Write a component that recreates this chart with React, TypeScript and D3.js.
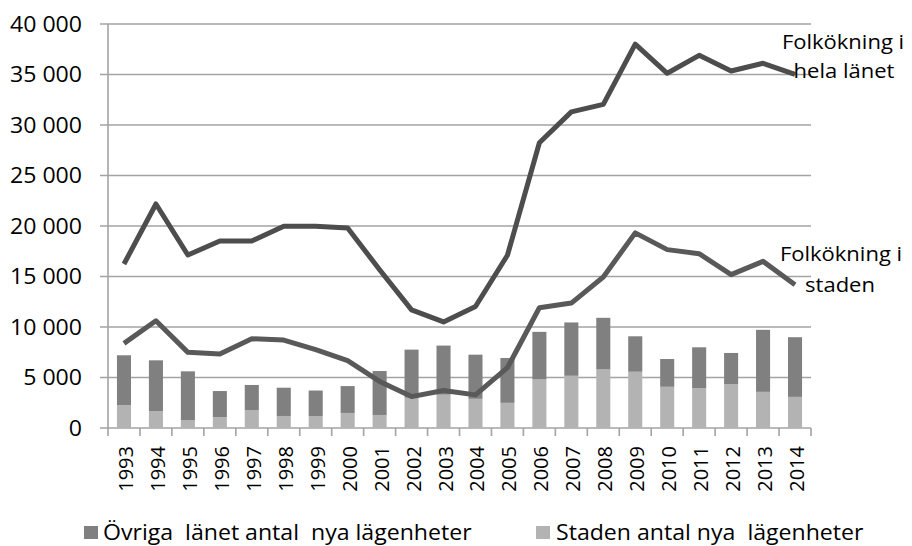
import React, { useEffect } from 'react';
import * as d3 from 'd3';

const years = ['1993', '1994', '1995', '1996', '1997', '1998', '1999', '2000', '2001', '2002', '2003',
  '2004', '2005', '2006', '2007', '2008', '2009', '2010', '2011', '2012', '2013', '2014'];

// stacked bars: staden at bottom, övriga länet on top
const stadenLgh = [2280, 1680, 790, 1060, 1750, 1190, 1160, 1490, 1290, 3000, 3300,
  2890, 2490, 4810, 5170, 5800, 5570, 4080, 3950, 4350, 3580, 3080];
const ovrigaLgh = [4920, 5020, 4820, 2600, 2510, 2800, 2550, 2660, 4350, 4760, 4860,
  4370, 4440, 4710, 5280, 5110, 3510, 2750, 4040, 3080, 6140, 5910];

// population growth lines
const folkLanet = [16240, 22180, 17130, 18510, 18510, 19970, 19970, 19800, 15670, 11700, 10500,
  12030, 17100, 28240, 31300, 32040, 38000, 35120, 36900, 35350, 36110, 35020];
const folkStaden = [8380, 10620, 7490, 7330, 8840, 8710, 7760, 6670, 4610, 3110, 3710,
  3280, 5970, 11910, 12370, 14950, 19320, 17660, 17260, 15180, 16500, 14190];

const yTicks = [0, 5000, 10000, 15000, 20000, 25000, 30000, 35000, 40000];

const W = 912;
const H = 546;
const left = 108;
const right = 811;
const top = 24;
const bottom = 428;
const FONT = '"Open Sans", sans-serif';
const SX = 1.1;

const fmt = (v: number) => d3.format(',')(v).replace(/,/g, ' ');

const App: React.FC = () => {
  useEffect(() => {
    document.body.style.margin = '0';
  }, []);

  const x = d3.scaleBand<string>().domain(years).range([left, right]).padding(0);
  const y = d3.scaleLinear().domain([0, 40000]).range([bottom, top]);
  const barW = x.bandwidth() * 0.44;
  const cx = (yr: string) => (x(yr) as number) + x.bandwidth() / 2;

  const line = d3.line<number>()
    .x((_, i) => cx(years[i]))
    .y(d => y(d));

  return (
    <svg width={W} height={H} style={{ display: 'block', background: '#fff' }} fontFamily={FONT}>
      {/* gridlines */}
      {yTicks.map(t => (
        <line key={'g' + t} x1={left - 8} x2={right} y1={y(t)} y2={y(t)} stroke="#a3a3a3" strokeWidth={1.6} />
      ))}
      {/* y labels */}
      {yTicks.map(t => (
        <g key={'yl' + t} transform={`translate(82, ${y(t) + 7.5}) scale(${SX},1)`}>
          <text textAnchor="end" fontSize={21} fill="#000">{fmt(t)}</text>
        </g>
      ))}
      {/* axes */}
      <line x1={left} x2={left} y1={top} y2={bottom} stroke="#a3a3a3" strokeWidth={1.6} />
      {d3.range(years.length + 1).map(i => {
        const xx = left + i * x.step();
        return <line key={'xt' + i} x1={xx} x2={xx} y1={bottom} y2={bottom + 8} stroke="#a3a3a3" strokeWidth={1.6} />;
      })}
      {/* bars */}
      {years.map((yr, i) => (
        <g key={'b' + yr}>
          <rect x={cx(yr) - barW / 2} width={barW} y={y(stadenLgh[i])} height={bottom - y(stadenLgh[i])} fill="#b3b3b3" />
          <rect x={cx(yr) - barW / 2} width={barW} y={y(stadenLgh[i] + ovrigaLgh[i])}
            height={y(stadenLgh[i]) - y(stadenLgh[i] + ovrigaLgh[i])} fill="#808080" />
        </g>
      ))}
      {/* lines */}
      <path d={line(folkStaden) || ''} fill="none" stroke="#595959" strokeWidth={5} strokeLinejoin="round" />
      <path d={line(folkLanet) || ''} fill="none" stroke="#4d4d4d" strokeWidth={5} strokeLinejoin="round" />
      {/* x labels */}
      {years.map(yr => (
        <text key={'xl' + yr} transform={`translate(${cx(yr) + 9}, 446) rotate(-90)`} textAnchor="end"
          fontSize={20} fill="#000">{yr}</text>
      ))}
      {/* line labels */}
      <g transform={`translate(843, 49) scale(${SX},1)`}>
        <text textAnchor="middle" fontSize={20} fill="#000">Folkökning i</text>
      </g>
      <g transform={`translate(844, 78) scale(${SX},1)`}>
        <text textAnchor="middle" fontSize={20} fill="#000">hela länet</text>
      </g>
      <g transform={`translate(841, 261) scale(${SX},1)`}>
        <text textAnchor="middle" fontSize={20} fill="#000">Folkökning i</text>
      </g>
      <g transform={`translate(840, 292) scale(${SX},1)`}>
        <text textAnchor="middle" fontSize={20} fill="#000">staden</text>
      </g>
      {/* legend */}
      <rect x={84} y={526} width={14} height={13} fill="#808080" />
      <g transform={`translate(103, 540) scale(${SX},1)`}>
        <text fontSize={21} fill="#000" style={{ whiteSpace: 'pre' }}>Övriga  länet antal  nya lägenheter</text>
      </g>
      <rect x={536} y={526} width={14} height={13} fill="#b3b3b3" />
      <g transform={`translate(556, 540) scale(${SX},1)`}>
        <text fontSize={21} fill="#000" style={{ whiteSpace: 'pre' }}>Staden antal nya  lägenheter</text>
      </g>
    </svg>
  );
};

export default App;
